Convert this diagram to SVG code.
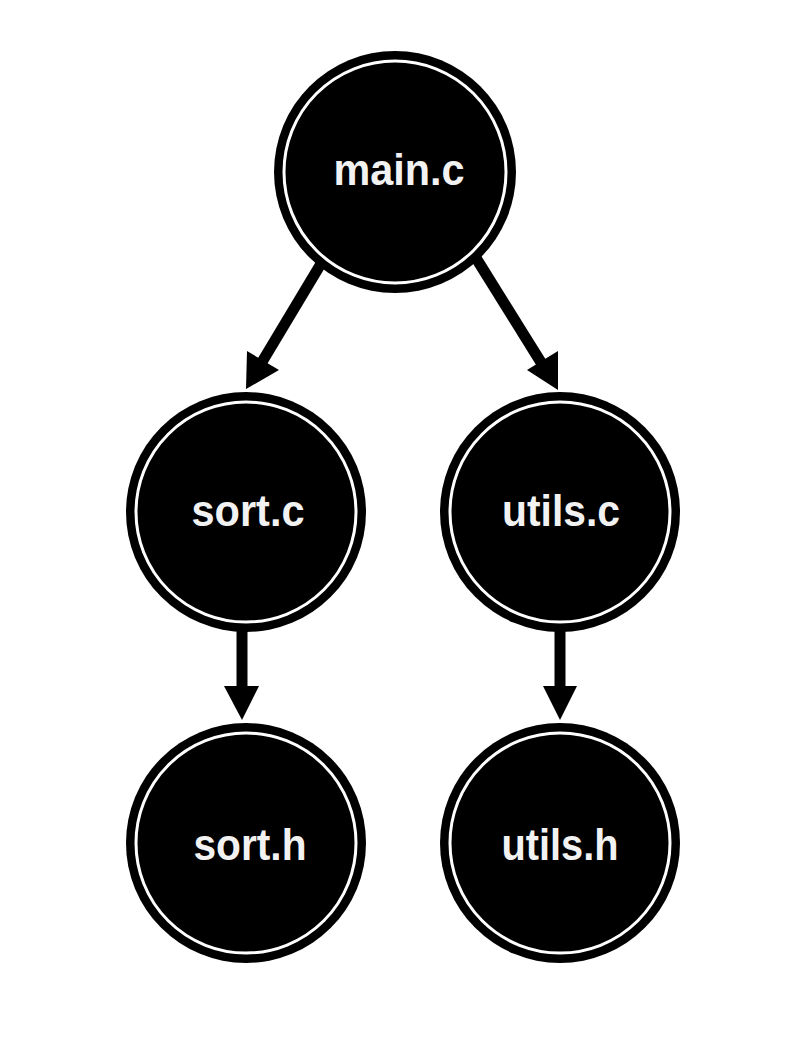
<svg xmlns="http://www.w3.org/2000/svg" width="811" height="1053" viewBox="0 0 811 1053">
<defs>
<style>
.outer{fill:#000}
.ring{fill:none;stroke:#fff;stroke-width:3}
.lbl{fill:#f2f2f2;font-family:"Liberation Sans",Arial,sans-serif;font-weight:bold;font-size:45px;text-anchor:middle}
.edge{stroke:#000;stroke-width:11;fill:none}
.head{fill:#000}
</style>
</defs>
<rect width="811" height="1053" fill="#fff"/>
<g id="connectors">
<line class="edge" x1="322" y1="262" x2="262" y2="362"/>
<polygon class="head" points="246,389 247,351 279,370"/>
<line class="edge" x1="476" y1="258" x2="542" y2="364"/>
<polygon class="head" points="558,390 527,370 558,351"/>
<line class="edge" x1="242" y1="628" x2="242" y2="690"/>
<polygon class="head" points="224,686 259,686 242,720"/>
<line class="edge" x1="560" y1="628" x2="560" y2="690"/>
<polygon class="head" points="543,686 577,686 560,720"/>
</g>
<g id="main_c">
<circle class="outer" cx="395" cy="172" r="121"/>
<circle class="ring" cx="395" cy="172" r="111"/>
<text class="lbl" x="399" y="185" textLength="131" lengthAdjust="spacingAndGlyphs">main.c</text>
</g>
<g id="sort_c">
<circle class="outer" cx="246" cy="512" r="120"/>
<circle class="ring" cx="246" cy="512" r="110"/>
<text class="lbl" x="248" y="526" textLength="113" lengthAdjust="spacingAndGlyphs">sort.c</text>
</g>
<g id="utils_c">
<circle class="outer" cx="560" cy="512" r="120"/>
<circle class="ring" cx="560" cy="512" r="110"/>
<text class="lbl" x="561" y="526" textLength="118" lengthAdjust="spacingAndGlyphs">utils.c</text>
</g>
<g id="sort_h">
<circle class="outer" cx="246" cy="843" r="120"/>
<circle class="ring" cx="246" cy="843" r="110"/>
<text class="lbl" x="250" y="860" textLength="113" lengthAdjust="spacingAndGlyphs">sort.h</text>
</g>
<g id="utils_h">
<circle class="outer" cx="560" cy="843" r="120"/>
<circle class="ring" cx="560" cy="843" r="110"/>
<text class="lbl" x="560" y="860" textLength="117" lengthAdjust="spacingAndGlyphs">utils.h</text>
</g>
</svg>
